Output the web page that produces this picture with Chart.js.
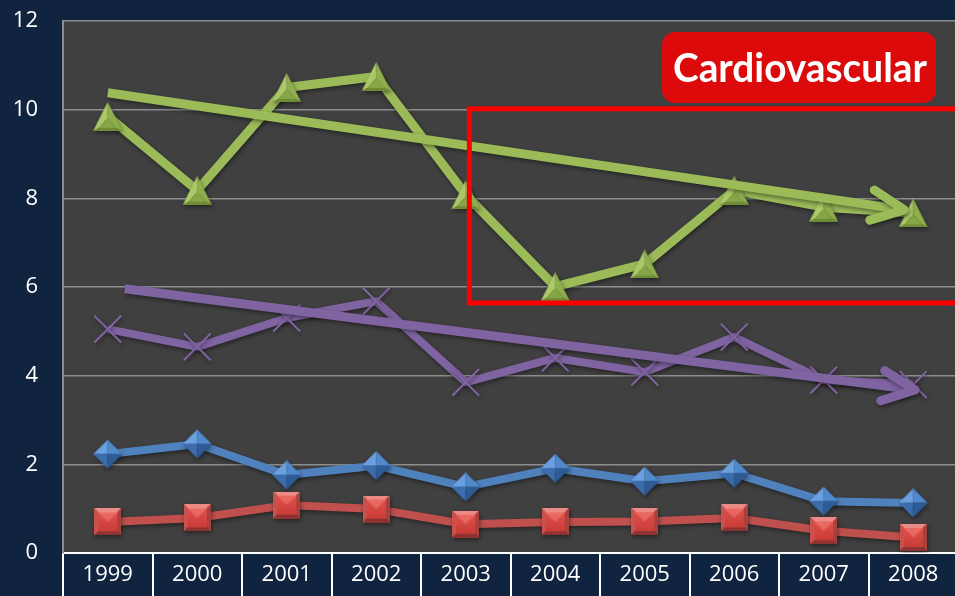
<!DOCTYPE html>
<html>
<head>
<meta charset="utf-8">
<script src="https://cdn.jsdelivr.net/npm/chart.js@4/dist/chart.umd.min.js"></script>
<style>
  html, body { margin:0; padding:0; background:#10233f; overflow:hidden; width:955px; height:596px; }
  #wrap { position:relative; width:960px; height:596px; }
  canvas { display:block; }
</style>
</head>
<body>
<div id="wrap"><canvas id="c" width="960" height="596"></canvas></div>
<script>
// ---- data ----
const years = ['1999','2000','2001','2002','2003','2004','2005','2006','2007','2008'];
const yTicks = [0, 2, 4, 6, 8, 10, 12];
const greenSeries  = [9.85, 8.18, 10.50, 10.75, 8.08, 6.01, 6.52, 8.18, 7.80, 7.67];
const purpleSeries = [5.05, 4.65, 5.30, 5.68, 3.85, 4.40, 4.08, 4.87, 3.90, 3.80];
const blueSeries   = [2.23, 2.46, 1.76, 1.97, 1.49, 1.91, 1.62, 1.80, 1.17, 1.13];
const redSeries    = [0.70, 0.79, 1.08, 0.99, 0.65, 0.70, 0.71, 0.79, 0.50, 0.35];
// trend arrows: [category position, value] at start and end
const greenTrend  = [{x: 0.00, y: 10.38}, {x: 8.90, y: 7.74}];
const purpleTrend = [{x: 0.19, y: 5.96},  {x: 9.02, y: 3.68}];
// highlighted region (category position / value range)
const highlight = {x0: 4.04, x1: 10.5, y0: 5.64, y1: 10.02};
const badgeText = 'Cardiovascular';

// ---- marker images ----
function mk(size, pad, drawFn) {
  const c = document.createElement('canvas');
  c.width = size + pad * 2; c.height = size + pad * 2;
  const g = c.getContext('2d');
  g.translate(pad, pad);
  drawFn(g, size);
  return c;
}
function poly(g, pts, fill) {
  g.beginPath(); g.moveTo(pts[0][0], pts[0][1]);
  for (let i = 1; i < pts.length; i++) g.lineTo(pts[i][0], pts[i][1]);
  g.closePath(); g.fillStyle = fill; g.fill();
}
const triImg = mk(29, 0, (g, s) => {
  const A=[s/2,0], B=[0,s], C=[s,s];
  const a=[s/2,s*0.55], b=[s*0.2,s*0.9], c=[s*0.8,s*0.9];
  poly(g,[A,B,b,a],'#acc96a');
  poly(g,[A,C,c,a],'#8fae4e');
  poly(g,[B,C,c,b],'#6f8c36');
  poly(g,[a,b,c],'#86a646');
});
const diaImg = mk(29, 0, (g, s) => {
  const T=[s/2,0], R=[s,s/2], Bm=[s/2,s], L=[0,s/2], C=[s/2,s/2];
  poly(g,[T,L,C],'#6a9fe0');
  poly(g,[T,R,C],'#5089cc');
  poly(g,[L,Bm,C],'#3b6cab');
  poly(g,[R,Bm,C],'#2e5b95');
});
const sqImg = mk(27, 0, (g, s) => {
  const i = 4;
  poly(g,[[0,0],[s,0],[s-i,i],[i,i]],'#ec8a86');
  poly(g,[[0,0],[i,i],[i,s-i],[0,s]],'#c9524e');
  poly(g,[[s,0],[s,s],[s-i,s-i],[s-i,i]],'#a8403d');
  poly(g,[[0,s],[i,s-i],[s-i,s-i],[s,s]],'#8e3331');
  const grd = g.createLinearGradient(0,i,0,s-i);
  grd.addColorStop(0,'#e2504b'); grd.addColorStop(1,'#c93c38');
  g.fillStyle = grd; g.fillRect(i,i,s-2*i,s-2*i);
  poly(g,[[i,i],[s-i,i],[s/2,s/2]],'rgba(255,160,150,0.35)');
});

// ---- plugins ----
const bgPlugin = {
  id: 'bg',
  beforeDraw(chart) {
    const {ctx, chartArea: a} = chart;
    ctx.save();
    ctx.fillStyle = '#10233f';
    ctx.fillRect(0, 0, chart.width, chart.height);
    ctx.fillStyle = '#404040';
    ctx.fillRect(a.left, a.top, a.right - a.left, a.bottom - a.top);
    ctx.restore();
  }
};
const shadowPlugin = {
  id: 'shadow',
  beforeDatasetDraw(chart) {
    const ctx = chart.ctx;
    ctx.save();
    ctx.shadowColor = 'rgba(0,0,0,0.45)';
    ctx.shadowBlur = 4; ctx.shadowOffsetX = 1; ctx.shadowOffsetY = 2;
  },
  afterDatasetDraw(chart) { chart.ctx.restore(); }
};
const overlayPlugin = {
  id: 'overlay',
  afterDatasetsDraw(chart) {
    const ctx = chart.ctx;
    // arrow heads on trend lines
    chart.data.datasets.forEach((ds, i) => {
      if (!ds.isTrend) return;
      const pts = chart.getDatasetMeta(i).data;
      const p1 = pts[pts.length - 2], p2 = pts[pts.length - 1];
      const ang = Math.atan2(p2.y - p1.y, p2.x - p1.x);
      const L = 36, sp = 25 * Math.PI / 180;
      ctx.save();
      ctx.shadowColor = 'rgba(0,0,0,0.45)';
      ctx.shadowBlur = 4; ctx.shadowOffsetX = 1; ctx.shadowOffsetY = 2;
      ctx.strokeStyle = ds.borderColor; ctx.lineWidth = ds.borderWidth;
      ctx.lineCap = 'round'; ctx.lineJoin = 'round';
      ctx.beginPath();
      ctx.moveTo(p2.x - L * Math.cos(ang - sp), p2.y - L * Math.sin(ang - sp));
      ctx.lineTo(p2.x, p2.y);
      ctx.lineTo(p2.x - L * Math.cos(ang + sp), p2.y - L * Math.sin(ang + sp));
      ctx.stroke();
      ctx.restore();
    });
    // highlight box
    const xs = chart.scales.xt, ys = chart.scales.y;
    const l = xs.getPixelForValue(highlight.x0), r = xs.getPixelForValue(highlight.x1);
    const t = ys.getPixelForValue(highlight.y1), b = ys.getPixelForValue(highlight.y0);
    ctx.save();
    ctx.strokeStyle = '#ff0000'; ctx.lineWidth = 5;
    ctx.strokeRect(l, t, r - l, b - t);
    // badge
    const bx = 662, by = 32, bw = 274, bh = 71, rad = 13;
    ctx.fillStyle = '#dc0a0a';
    ctx.beginPath();
    ctx.roundRect(bx, by, bw, bh, rad);
    ctx.fill();
    ctx.fillStyle = '#ffffff';
    ctx.font = 'bold 40px Lato';
    ctx.textBaseline = 'alphabetic';
    const w = ctx.measureText(badgeText).width;
    const target = 254;
    ctx.translate(673, 82);
    ctx.scale(target / w, 1);
    ctx.fillText(badgeText, 0, 0);
    ctx.restore();
  }
};

function seriesDS(label, data, color, width, style, extra) {
  return Object.assign({
    label, data, borderColor: color, backgroundColor: color,
    borderWidth: width, pointStyle: style, pointRadius: 15,
    pointHoverRadius: 15, tension: 0, borderJoinStyle: 'round', borderCapStyle: 'butt',
    xAxisID: 'x', yAxisID: 'y'
  }, extra || {});
}

new Chart(document.getElementById('c'), {
  type: 'line',
  data: {
    labels: years,
    datasets: [
      { label: 'green trend', isTrend: true, data: greenTrend, xAxisID: 'xt', yAxisID: 'y',
        borderColor: '#9bbb59', borderWidth: 9, pointRadius: 0, borderCapStyle: 'butt', order: 0 },
      { label: 'purple trend', isTrend: true, data: purpleTrend, xAxisID: 'xt', yAxisID: 'y',
        borderColor: '#8064a2', borderWidth: 9, pointRadius: 0, borderCapStyle: 'butt', order: 0 },
      seriesDS('Purple', purpleSeries, '#8064a2', 8, 'crossRot',
        { pointRadius: 19, pointBorderWidth: 2, pointBorderColor: '#8064a2', order: 1 }),
      seriesDS('Green', greenSeries, '#9bbb59', 9, triImg, { order: 2 }),
      seriesDS('Red', redSeries, '#c0504d', 8, sqImg, { order: 3 }),
      seriesDS('Blue', blueSeries, '#4f81bd', 8, diaImg, { order: 4 })
    ]
  },
  options: {
    responsive: false,
    animation: false,
    events: [],
    layout: { autoPadding: false, padding: { top: 21, right: 2, bottom: 0, left: 0 } },
    plugins: { legend: { display: false }, tooltip: { enabled: false } },
    scales: {
      x: {
        type: 'category',
        offset: true,
        position: 'bottom',
        grid: { offset: true, drawOnChartArea: false, drawTicks: true, tickLength: 43,
                color: '#ffffff', lineWidth: 2 },
        border: { display: true, color: '#ffffff', width: 2 },
        ticks: { color: '#ffffff', font: { family: 'Open Sans', size: 22 }, padding: -34,
                 maxRotation: 0, autoSkip: false },
        afterFit(s) { s.height = 43; s.paddingLeft = 0; s.paddingRight = 0; }
      },
      xt: {
        type: 'linear', display: false, min: -0.5, max: 9.5,
        afterFit(s) { s.paddingLeft = 0; s.paddingRight = 0; }
      },
      y: {
        min: 0, max: 12,
        afterBuildTicks(s) { s.ticks = yTicks.map(v => ({ value: v })); },
        grid: { color: '#8e8e8e', lineWidth: 1.5, drawTicks: false },
        border: { display: true, color: '#8e8e8e', width: 2 },
        ticks: { color: '#ffffff', font: { family: 'Open Sans', size: 22 }, padding: 25 },
        afterFit(s) { s.width = 63; s.paddingTop = 0; s.paddingBottom = 0; }
      }
    }
  },
  plugins: [bgPlugin, shadowPlugin, overlayPlugin]
});
</script>
</body>
</html>
